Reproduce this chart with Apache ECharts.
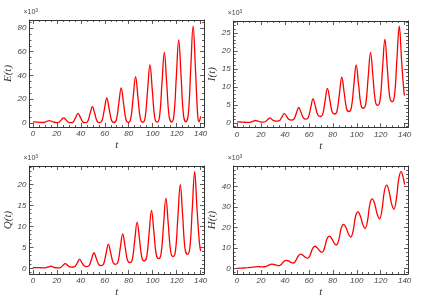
<!DOCTYPE html>
<html>
<head>
<meta charset="utf-8">
<script src="https://cdn.jsdelivr.net/npm/echarts@6/dist/echarts.min.js"></script>
<style>
html,body{margin:0;padding:0;background:#fff;}
#chart{width:423px;height:301px;}
</style>
</head>
<body>
<div id="chart"></div>
<script>
// ---- Data (values in units of 10^3) ----
const xTicks = [0, 20, 40, 60, 80, 100, 120, 140];
const yTicksE = [0, 20, 40, 60, 80];
const yTicksI = [0, 5, 10, 15, 20, 25];
const yTicksQ = [0, 5, 10, 15, 20];
const yTicksH = [0, 10, 20, 30, 40];

const tE = [0, 1.7, 3.7, 5.7, 7.7, 9.7, 11.7, 13.7, 15.7, 17.7, 19.7, 21.7, 23.7, 25.7, 27.7, 29.7, 31.7, 33.7, 35.7, 37.7, 39.7, 41.7, 43.7, 45.7, 47.7, 49.7, 51.7, 53.7, 55.7, 57.7, 59.7, 61.7, 63.7, 65.7, 67.7, 69.7, 71.7, 73.7, 75.7, 77.7, 79.7, 81.7, 83.7, 85.7, 87.7, 89.7, 91.7, 93.7, 95.7, 97.7, 99.7, 101.7, 103.7, 105.7, 107.7, 109.7, 111.7, 113.7, 115.7, 117.7, 119.7, 121.7, 123.7, 125.7, 127.7, 129.7, 131.7, 133.7, 135.7, 137.5, 138.7, 140];
const E  = [1.0, 0.9, 0.7, 0.5, 0.4, 0.6, 1.4, 2.0, 1.4, 0.6, 0.3, 0.6, 2.6, 4.3, 2.6, 0.6, 0.2, 0.8, 4.6, 8.1, 4.6, 0.8, 0.2, 1.2, 7.7, 13.8, 7.7, 1.3, 0.3, 2.0, 11.7, 21, 11.7, 2.0, 0.4, 2.7, 16.4, 29.5, 16.4, 2.8, 0.5, 3.6, 21.6, 39, 21.6, 3.6, 0.6, 4.5, 27.2, 49, 27.2, 4.5, 0.7, 5.4, 33, 59.5, 33, 5.5, 0.8, 6.4, 38.8, 70, 38.8, 6.4, 0.9, 7.3, 45, 81.5, 45, 7, 1.0, 5.5];

const tI = [0, 1.5, 3.5, 5.5, 7.5, 9.5, 11.5, 13.5, 15.5, 17.5, 19.5, 21.5, 23.5, 25.5, 27.5, 29.5, 31.5, 33.5, 35.5, 37.5, 39.5, 41.5, 43.5, 45.5, 47.5, 49.5, 51.5, 53.5, 55.5, 57.5, 59.5, 61.5, 63.5, 65.5, 67.5, 69.5, 71.5, 73.5, 75.5, 77.5, 79.5, 81.5, 83.5, 85.5, 87.5, 89.5, 91.5, 93.5, 95.5, 97.5, 99.5, 101.5, 103.5, 105.5, 107.5, 109.5, 111.5, 113.5, 115.5, 117.5, 119.5, 121.5, 123.5, 125.5, 127.5, 129.5, 131.5, 133.5, 135.5, 137.5, 139.5, 140];
const I  = [0.3, 0.3, 0.27, 0.22, 0.18, 0.17, 0.25, 0.5, 0.7, 0.5, 0.3, 0.25, 0.35, 0.9, 1.4, 0.9, 0.57, 0.5, 0.67, 1.7, 2.6, 1.8, 0.95, 0.8, 1.1, 2.7, 4.3, 2.9, 1.35, 1.1, 1.55, 4.2, 6.7, 4.5, 2.2, 1.8, 2.4, 6.1, 9.6, 6.4, 3.05, 2.5, 3.3, 8.1, 12.7, 8.4, 3.95, 3.2, 4.3, 10.3, 16.1, 10.7, 5.05, 4.1, 5.3, 12.6, 19.6, 13, 6.1, 4.9, 6.4, 15, 23.2, 15.4, 7.3, 5.9, 7.6, 17.5, 26.9, 17, 8.3, 7.6];

const tQ = [0, 1, 3, 5, 7, 9, 11, 13, 15, 17, 19, 21, 23, 25, 27, 29, 31, 33, 35, 37, 39, 41, 43, 45, 47, 49, 51, 53, 55, 57, 59, 61, 63, 65, 67, 69, 71, 73, 75, 77, 79, 81, 83, 85, 87, 89, 91, 93, 95, 97, 99, 101, 103, 105, 107, 109, 111, 113, 115, 117, 119, 121, 123, 125, 127, 129, 131, 133, 135, 137, 139, 140];
const Q  = [0.15, 0.16, 0.18, 0.17, 0.13, 0.1, 0.15, 0.35, 0.5, 0.3, 0.13, 0.1, 0.18, 0.65, 1.1, 0.7, 0.32, 0.25, 0.4, 1.25, 2.1, 1.3, 0.54, 0.4, 0.67, 2.2, 3.7, 2.3, 0.9, 0.65, 1.05, 3.4, 5.7, 3.6, 1.3, 0.95, 1.5, 5.0, 8.2, 5.1, 1.9, 1.35, 2.1, 6.7, 11, 6.9, 2.5, 1.75, 2.7, 8.4, 13.8, 8.6, 3.2, 2.3, 3.5, 10.2, 16.7, 10.5, 4.0, 2.8, 4.2, 12.2, 19.9, 12.5, 4.6, 3.3, 4.9, 14.1, 23, 14, 6, 4.1];

const tH = [0, 5, 9, 11, 13, 15, 17, 19, 21, 23, 25, 27, 29, 31, 33, 35, 37, 39, 41, 43, 45, 47, 49, 51, 53, 55, 57, 59, 61, 63, 65, 67, 69, 71, 73, 75, 77, 79, 81, 83, 85, 87, 89, 91, 93, 95, 97, 99, 101, 103, 105, 107, 109, 111, 113, 115, 117, 119, 121, 123, 125, 127, 129, 131, 133, 135, 137, 139, 140];
const H  = [0, 0.15, 0.3, 0.4, 0.55, 0.7, 0.8, 0.75, 0.7, 0.75, 1.1, 1.7, 2.0, 1.85, 1.5, 1.3, 1.9, 3.3, 3.9, 3.6, 2.9, 2.6, 3.7, 5.9, 6.9, 6.4, 5.4, 4.9, 6.4, 9.6, 10.8, 10, 8.6, 7.8, 9.8, 14.2, 15.8, 14.7, 12.5, 11.4, 13.9, 19.6, 21.5, 20, 16.9, 15.3, 18.4, 25.5, 27.6, 25.6, 21.6, 19.6, 23.3, 31.6, 34, 31.5, 26.7, 24.2, 28.3, 37.6, 40.7, 37.7, 31.8, 28.9, 33.5, 43.5, 47.3, 44, 41];

// ---- Layout / style ----
const frameColor = '#333';
const labelColor = '#444';
const lineColor = '#ff0000';
const xRange = [-2.8, 142.8];

const panels = [
  {title: 'E(t)', t: tE, v: E, yTicks: yTicksE, minorStep: 5, yRange: [-3.4, 86.7], grid: {left: 29.5, top: 20, width: 174.5, height: 107}},
  {title: 'I(t)', t: tI, v: I, yTicks: yTicksI, minorStep: 1, yRange: [-1.19, 28.3], grid: {left: 233.7, top: 21, width: 174.3, height: 106.3}},
  {title: 'Q(t)', t: tQ, v: Q, yTicks: yTicksQ, minorStep: 1, yRange: [-1.36, 24.36], grid: {left: 29.5, top: 166, width: 174.5, height: 108}},
  {title: 'H(t)', t: tH, v: H, yTicks: yTicksH, minorStep: 2, yRange: [-2.8, 50.1], grid: {left: 233.7, top: 166, width: 174.3, height: 108}}
];

function minorTicks(lo, hi, step, majors) {
  const out = [];
  const start = Math.ceil(lo / step) * step;
  for (let v = start; v <= hi + 1e-9; v += step) {
    const r = Math.round(v * 1000) / 1000;
    if (!majors.includes(r)) out.push(r);
  }
  return out;
}
const xMinor = minorTicks(xRange[0], xRange[1], 5, xTicks);

const labelFont = {fontFamily: 'Liberation Sans', fontStyle: 'italic', fontSize: 8, color: labelColor};
const titleFont = {fontFamily: 'Liberation Serif', fontStyle: 'italic', fontSize: 11, color: '#333'};

const grids = [], xAxes = [], yAxes = [], series = [];

panels.forEach((p, gi) => {
  grids.push(Object.assign({containLabel: false}, p.grid));
  const yMinor = minorTicks(p.yRange[0], p.yRange[1], p.minorStep, p.yTicks);
  const xBase = xAxes.length, yBase = yAxes.length;
  const mkX = (pos, major, withLabel) => ({
    gridIndex: gi, type: 'value', min: xRange[0], max: xRange[1], position: pos, offset: 0,
    axisLine: {show: major, onZero: false, lineStyle: {color: frameColor, width: 1}},
    axisTick: {show: true, inside: true, length: major ? 4 : 2, customValues: major ? xTicks : xMinor, lineStyle: {color: frameColor, width: 0.8}},
    axisLabel: withLabel ? Object.assign({show: true, customValues: xTicks, margin: 3}, labelFont) : {show: false},
    splitLine: {show: false},
    name: withLabel ? 't' : '', nameLocation: 'middle', nameGap: 13, nameTextStyle: titleFont
  });
  const mkY = (pos, major, withLabel, extraName) => ({
    gridIndex: gi, type: 'value', min: p.yRange[0], max: p.yRange[1], position: pos, offset: 0,
    axisLine: {show: major, onZero: false, lineStyle: {color: frameColor, width: 1}},
    axisTick: {show: true, inside: true, length: major ? 4 : 2, customValues: major ? p.yTicks : yMinor, lineStyle: {color: frameColor, width: 0.8}},
    axisLabel: withLabel ? Object.assign({show: true, customValues: p.yTicks, margin: 3}, labelFont) : {show: false},
    splitLine: {show: false},
    ...(withLabel ? {name: p.title, nameLocation: 'middle', nameGap: 14, nameRotate: 90, nameTextStyle: titleFont} : {}),
    ...(extraName ? {name: '×10{s|3}', nameLocation: 'end', nameGap: 3,
        nameTextStyle: {fontFamily: 'Liberation Sans', fontSize: 7, color: labelColor, align: 'left', padding: [0, 0, 0, -6],
          rich: {s: {fontFamily: 'Liberation Sans', fontSize: 5, color: labelColor, verticalAlign: 'top', padding: [0, 0, 4, 0]}}}} : {})
  });
  xAxes.push(mkX('bottom', true, true), mkX('bottom', false, false), mkX('top', true, false), mkX('top', false, false));
  yAxes.push(mkY('left', true, true, false), mkY('left', false, false, true), mkY('right', true, false, false), mkY('right', false, false, false));
  series.push({
    type: 'line', xAxisIndex: xBase, yAxisIndex: yBase,
    data: p.t.map((x, i) => [x, p.v[i]]),
    showSymbol: false, smooth: 0.4, silent: true,
    lineStyle: {color: lineColor, width: 1.3}
  });
});

const chart = echarts.init(document.getElementById('chart'), null, {renderer: 'canvas'});
chart.setOption({
  animation: false,
  backgroundColor: '#ffffff',
  grid: grids, xAxis: xAxes, yAxis: yAxes, series: series
});
</script>
</body>
</html>
